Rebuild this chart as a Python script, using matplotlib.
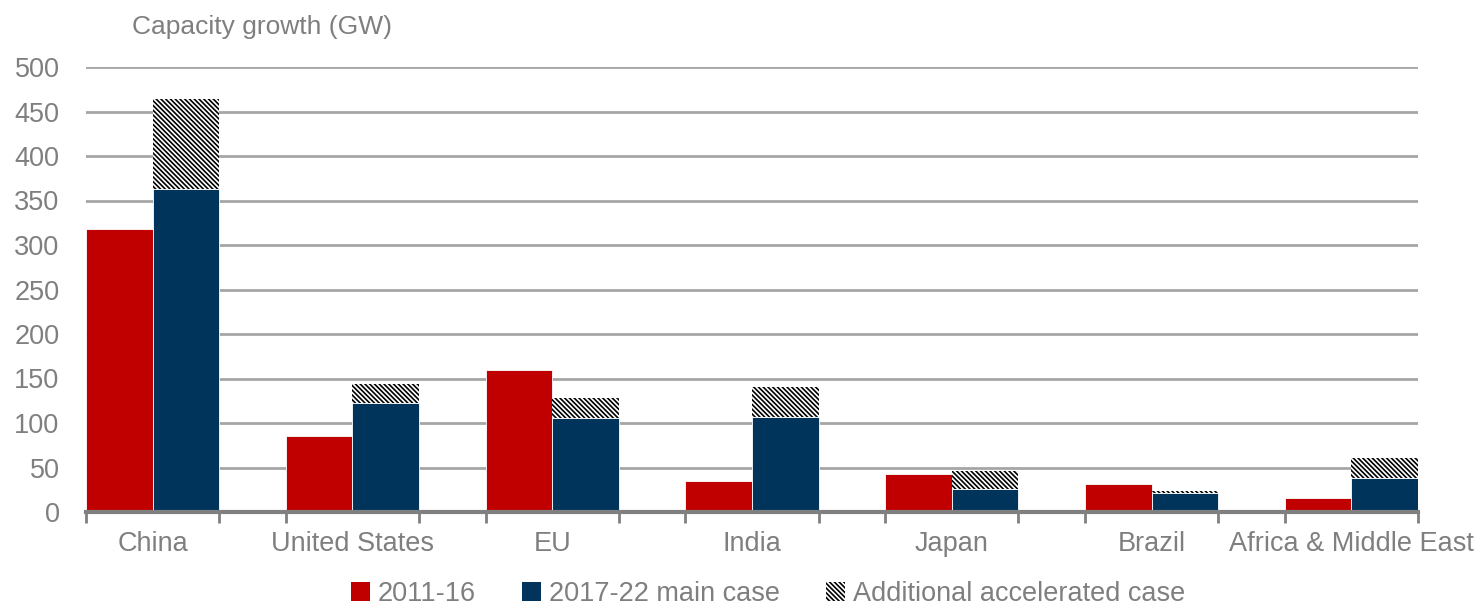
import matplotlib
matplotlib.use("Agg")
import matplotlib.pyplot as plt
from matplotlib.patches import Patch
from matplotlib import font_manager

categories = ["China", "United States", "EU", "India", "Japan", "Brazil", "Africa & Middle East"]
growth_2011_16 = [318, 85, 160, 35, 43, 32, 16]
main_2017_22 = [363, 122, 106, 107, 26, 21, 38]
accelerated_extra = [101, 22, 22, 33, 20, 3, 23]
yticks = [0, 50, 100, 150, 200, 250, 300, 350, 400, 450, 500]

names = {f.name for f in font_manager.fontManager.ttflist}
fam = "Liberation Sans Narrow" if "Liberation Sans Narrow" in names else "Liberation Sans"
plt.rcParams["font.family"] = [fam, "DejaVu Sans"]
plt.rcParams["hatch.linewidth"] = 1.2

txt = "#7f7f7f"
red = "#c00000"
navy = "#00345a"
HATCH = "\\" * 7

fig = plt.figure(figsize=(14.77, 6.11), dpi=100)
ax = fig.add_axes([86/1477, 99/611, 1332/1477, 445/611])

xr = [3*i + 0.5 for i in range(len(categories))]
xb = [3*i + 1.5 for i in range(len(categories))]
ax.bar(xr, growth_2011_16, width=1.0, color=red, edgecolor="white", linewidth=0.6, zorder=3)
ax.bar(xb, main_2017_22, width=1.0, color=navy, edgecolor="white", linewidth=0.6, zorder=3)
ax.bar(xb, accelerated_extra, bottom=main_2017_22, width=1.0, color="white",
       edgecolor="black", hatch=HATCH, linewidth=0, zorder=3)

ax.set_xlim(0, 20)
ax.set_ylim(0, 500)
ax.set_yticks(yticks)
ax.set_yticklabels([str(v) for v in yticks])
ax.yaxis.grid(True, color="#a6a6a6", linewidth=2, zorder=0)
ax.set_axisbelow(True)
for s in ["top", "right", "left"]:
    ax.spines[s].set_visible(False)
ax.spines["bottom"].set_color("#808080")
ax.spines["bottom"].set_linewidth(3)
ax.spines["bottom"].set_zorder(4)

ax.set_xticks([3*i + 1 for i in range(len(categories))])
ax.set_xticklabels(categories)
ax.set_xticks(list(range(0, 21)), minor=True)
ax.tick_params(axis="x", which="major", length=0, pad=14, labelsize=19.5, labelcolor=txt)
ax.tick_params(axis="x", which="minor", length=8, width=2, color="#808080", direction="out")
ax.tick_params(axis="y", length=0, pad=19, labelsize=19.5, labelcolor=txt)

fig.text(132/1477, 1 - 27/611, "Capacity growth (GW)", ha="left", va="center",
         fontsize=19, color=txt)

handles = [Patch(facecolor=red, edgecolor="none"),
           Patch(facecolor=navy, edgecolor="none"),
           Patch(facecolor="white", edgecolor="black", hatch=HATCH, linewidth=0)]
labels = ["2011-16", "2017-22 main case", "Additional accelerated case"]
fig.legend(handles, labels, loc="center", bbox_to_anchor=(768/1477, 17/611), ncol=3,
           frameon=False, fontsize=19.5, labelcolor=txt, handlelength=0.7, handleheight=0.7,
           handletextpad=0.3, columnspacing=1.7, borderaxespad=0)

fig.savefig("out.png", dpi=100)
